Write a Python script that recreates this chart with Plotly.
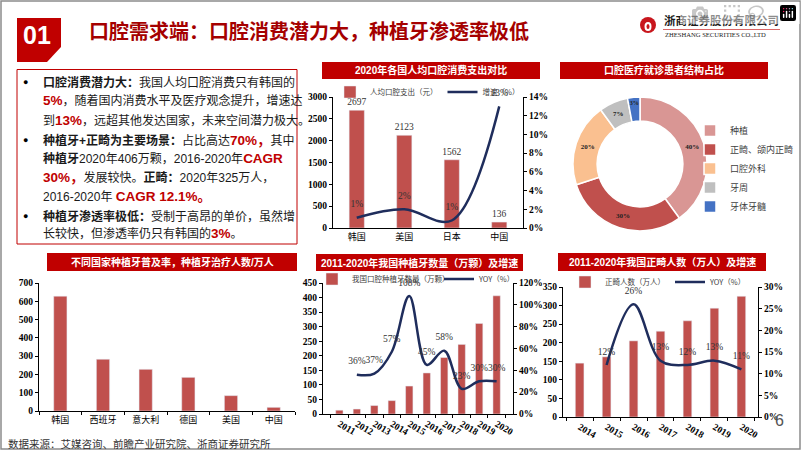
import plotly.graph_objects as go

W, H = 802, 451


def px(x):
    return x / W


def py(y):
    return 1 - y / H


# ---------------- DATA ----------------
c1_countries = ["韩国", "美国", "日本", "中国"]
c1_spend = [2697, 2123, 1562, 136]
c1_growth = [1.1, 2.0, 0.8, 13.0]

pie_labels = ["种植", "正畸、颌内正畸", "口腔外科", "牙周", "牙体牙髓"]
pie_values = [40, 30, 20, 7, 3]

c3_countries = ["韩国", "西班牙", "意大利", "德国", "美国", "中国"]
c3_patients = [628, 283, 228, 184, 84, 20]

c4_years = ["2011", "2012", "2013", "2014", "2015", "2016", "2017", "2018", "2019", "2020"]
c4_implants = [13, 17, 29, 46, 96, 141, 194, 239, 311, 406]
c4_yoy = [None, 36, 37, 57, 108, 45, 58, 23, 30, 30]

c5_years = ["2014", "2015", "2016", "2017", "2018", "2019", "2020"]
c5_ortho = [145, 162, 205, 231, 259, 293, 325]
c5_yoy = [None, 12, 26, 13, 12, 13, 11]

# ---------------- STYLE ----------------
RED = "#C00000"
BAR = "#C0504D"
LINE = "#1F2D5C"
SERIF = "Liberation Serif, Noto Sans CJK SC"
SANS = "Liberation Sans, Noto Sans CJK SC"
CJK = "Noto Sans CJK SC"
TF = dict(family=SERIF, size=9.5, color="black", weight="bold")
CATF = dict(family=CJK, size=9, color="black")
LBL = dict(family=SERIF, size=9.5, color="#333333")
HIDDEN_MARK = dict(size=11, color="rgba(0,0,0,0)")

fig = go.Figure()

# ---- Chart 1: per-capita oral spending ----
fig.add_trace(go.Bar(
    x=c1_countries, y=c1_spend, name="人均口腔支出（元）", marker_color=BAR, width=0.32,
    text=c1_spend, textposition="outside", textfont=LBL, cliponaxis=False, constraintext="none",
    xaxis="x", yaxis="y", legend="legend"))
fig.add_trace(go.Scatter(
    x=c1_countries, y=c1_growth, name="增速（%）", mode="lines+markers+text",
    line=dict(color=LINE, width=2.5, shape="spline", smoothing=1.0), marker=HIDDEN_MARK,
    text=[f"{round(v)}%" for v in c1_growth], textposition="top center", textfont=LBL,
    cliponaxis=False, xaxis="x", yaxis="y2", legend="legend"))

# ---- Donut ----
fig.add_trace(go.Pie(
    labels=pie_labels, values=pie_values, hole=0.64, sort=False, direction="clockwise",
    rotation=0,
    marker=dict(colors=["#D99694", "#C0504D", "#FAC090", "#BFBFBF", "#4472C4"],
                line=dict(color="white", width=1.5)),
    texttemplate="%{value}%", textposition="inside", insidetextorientation="horizontal",
    textfont=dict(family=SERIF, size=7, color="#222222", weight="bold"),
    domain=dict(x=[px(573), px(707)], y=[py(231), py(97)]),
    legend="legend2"))

# ---- Chart 3: implant patients by country ----
fig.add_trace(go.Bar(
    x=c3_countries, y=c3_patients, marker_color=BAR, width=0.31, showlegend=False,
    xaxis="x2", yaxis="y3"))

# ---- Chart 4: implants in China ----
fig.add_trace(go.Bar(
    x=c4_years, y=c4_implants, name="我国口腔种植牙数量（万颗）", marker_color=BAR, width=0.42,
    xaxis="x3", yaxis="y4", legend="legend3"))
fig.add_trace(go.Scatter(
    x=c4_years, y=c4_yoy, name="YOY（%）", mode="lines+markers+text",
    line=dict(color=LINE, width=2.5, shape="spline", smoothing=1.0), marker=HIDDEN_MARK,
    text=["" if v is None else f"{v}%" for v in c4_yoy], textposition="top center",
    textfont=LBL, cliponaxis=False, xaxis="x3", yaxis="y5", legend="legend3"))

# ---- Chart 5: orthodontic patients ----
fig.add_trace(go.Bar(
    x=c5_years, y=c5_ortho, name="正畸人数（万人）", marker_color=BAR, width=0.32,
    xaxis="x4", yaxis="y6", legend="legend4"))
fig.add_trace(go.Scatter(
    x=c5_years, y=c5_yoy, name="YOY（%）", mode="lines+markers+text",
    line=dict(color=LINE, width=2.5, shape="spline", smoothing=1.0), marker=HIDDEN_MARK,
    text=["" if v is None else f"{v}%" for v in c5_yoy], textposition="top center",
    textfont=LBL, cliponaxis=False, xaxis="x4", yaxis="y7", legend="legend4"))


def xax(x0, x1, anchor, ticks=True):
    return dict(domain=[px(x0), px(x1)], anchor=anchor, type="category", showline=True,
                linecolor="black", linewidth=1, showgrid=False, zeroline=False,
                ticks="outside" if ticks else "", ticklen=3, tickcolor="black",
                tickson="boundaries", tickfont=CATF, fixedrange=True, automargin=False)


def yax(y_bottom, y_top, anchor, rng, dtick, suffix="", overlaying=None):
    d = dict(anchor=anchor, range=rng, dtick=dtick, showline=True, linecolor="black",
             linewidth=1, showgrid=False, zeroline=False, ticks="outside", ticklen=3,
             tickcolor="black", tickfont=TF, ticksuffix=suffix, fixedrange=True, automargin=False)
    if overlaying:
        d.update(overlaying=overlaying, side="right")
    else:
        d.update(domain=[py(y_bottom), py(y_top)])
    return d


x4f = dict(CATF)
x4f.update(family=SERIF, size=9.5, weight="bold")

layout_axes = dict(
    xaxis=xax(333, 523, "y", ticks=False),
    yaxis=yax(228, 97, "x", [0, 3000], 500),
    yaxis2=yax(228, 97, "x", [0, 14], 2, "%", overlaying="y"),
    xaxis2=xax(39, 295, "y3"),
    yaxis3=yax(411, 283, "x2", [0, 700], 100),
    xaxis3=xax(323, 513, "y4"),
    yaxis4=yax(414, 283, "x3", [0, 450], 50),
    yaxis5=yax(414, 283, "x3", [0, 120], 20, "%", overlaying="y4"),
    xaxis4=xax(563, 758, "y6"),
    yaxis6=yax(417, 287, "x4", [0, 350], 50),
    yaxis7=yax(417, 287, "x4", [0, 30], 5, "%", overlaying="y6"),
)
layout_axes["xaxis3"]["tickfont"] = x4f
layout_axes["xaxis4"]["tickfont"] = x4f

LEGF = dict(family=CJK, size=7.5, color="#404040")


def hleg(x, y, ew=None):
    d = dict(orientation="h", x=px(x), y=py(y), xanchor="left", yanchor="middle",
             font=LEGF, bgcolor="rgba(0,0,0,0)", itemwidth=30, traceorder="normal")
    if ew:
        d.update(entrywidth=ew, entrywidthmode="pixels")
    return d


shapes = []
annotations = []


def ann(x, y, text, font, xanchor="center", yanchor="middle"):
    annotations.append(dict(x=px(x), y=py(y), xref="paper", yref="paper", text=text, showarrow=False,
                            xanchor=xanchor, yanchor=yanchor, font=font))


# slide frame
shapes.append(dict(type="rect", xref="paper", yref="paper", x0=px(1), x1=px(800), y0=py(449), y1=py(1),
                   line=dict(color="#8C8C8C", width=1.5), fillcolor="rgba(0,0,0,0)", layer="below"))

# "01" badge
pts = [(17, 18), (61, 18), (61, 47), (47, 62), (17, 62)]
path = "M " + " L ".join(f"{px(a):.5f},{py(b):.5f}" for a, b in pts) + " Z"
shapes.append(dict(type="path", xref="paper", yref="paper", path=path, fillcolor=RED, line=dict(width=0)))
ann(37, 35, "<b>01</b>", dict(family="Liberation Sans", size=25, color="white"))
# header title
ann(87, 31, "<b>口腔需求端：口腔消费潜力大，种植牙渗透率极低</b>",
    dict(family=CJK, size=20, color="#A50000"), xanchor="left")
# logo
shapes.append(dict(type="circle", xref="paper", yref="paper", x0=px(640), x1=px(656), y0=py(33), y1=py(17),
                   fillcolor="#C8161D", line=dict(width=0)))
shapes.append(dict(type="circle", xref="paper", yref="paper", x0=px(644.5), x1=px(651.5), y0=py(31), y1=py(22),
                   fillcolor="white", line=dict(width=0)))
shapes.append(dict(type="circle", xref="paper", yref="paper", x0=px(646.5), x1=px(649.5), y0=py(29), y1=py(24),
                   fillcolor="#C8161D", line=dict(width=0)))
ann(662, 20, "<b>浙商证券股份有限公司</b>", dict(family=CJK, size=11.5, color="#1A1A1A"), xanchor="left")
shapes.append(dict(type="line", xref="paper", yref="paper", x0=px(663), x1=px(780), y0=py(29.5), y1=py(29.5),
                   line=dict(color="#D04040", width=0.8)))
ann(663, 34, "ZHESHANG SECURITIES CO.,LTD", dict(family="Liberation Serif", size=6.6, color="#1A1A1A"),
    xanchor="left")

# text box
shapes.append(dict(type="rect", xref="paper", yref="paper", x0=px(17), x1=px(297), y0=py(244), y1=py(69.5),
                   line=dict(color=RED, width=1), fillcolor="white", layer="below"))


def red(s):
    return f"<span style='color:{RED};font-size:13.5px'><b>{s}</b></span>"


text_lines = [
    (True, "<b>口腔消费潜力大：</b>我国人均口腔消费只有韩国的"),
    (False, red("5%") + "，随着国内消费水平及医疗观念提升，增速达"),
    (False, "到" + red("13%") + "，远超其他发达国家，未来空间潜力极大。"),
    (True, "<b>种植牙+正畸为主要场景：</b>占比高达" + red("70%，") + "其中"),
    (False, "<b>种植牙</b>2020年406万颗，2016-2020年" + red("CAGR")),
    (False, red("30%，") + "发展较快。<b>正畸：</b>2020年325万人，"),
    (False, "2016-2020年 " + red("CAGR 12.1%。")),
    (True, "<b>种植牙渗透率极低：</b>受制于高昂的单价，虽然增"),
    (False, "长较快，但渗透率仍只有韩国的" + red("3%") + "。"),
]
line_y = [82, 101, 120, 140, 158, 177, 197, 216, 234]
for (bullet, txt), yy in zip(text_lines, line_y):
    if bullet:
        ann(25, yy, "●", dict(family=SANS, size=9, color="black"))
    ann(41, yy, txt, dict(family=SANS, size=12, color="#1A1A1A"), xanchor="left")

# chart title bars
title_bars = [
    (322, 540, 62, 79, "2020年各国人均口腔消费支出对比"),
    (560, 768, 62, 79, "口腔医疗就诊患者结构占比"),
    (47, 297, 253, 271, "不同国家种植牙普及率，种植牙治疗人数/万人"),
    (316, 523, 254, 271, "2011-2020年我国种植牙数量（万颗）及增速"),
    (558, 766, 253, 271, "2011-2020年我国正畸人数（万人）及增速"),
]
for x0, x1, y0, y1, t in title_bars:
    shapes.append(dict(type="rect", xref="paper", yref="paper", x0=px(x0), x1=px(x1), y0=py(y1), y1=py(y0),
                       fillcolor=RED, line=dict(width=0), layer="below"))
    ann((x0 + x1) / 2, (y0 + y1) / 2, f"<b>{t}</b>", dict(family=SANS, size=10, color="white"))

# source + page number
ann(6, 443, "数据来源：艾媒咨询、前瞻产业研究院、浙商证券研究所",
    dict(family=CJK, size=10.5, color="#333333"), xanchor="left")
ann(779, 420, "6", dict(family="Liberation Sans", size=16, color="#555555"))

fig.update_layout(
    width=W, height=H, margin=dict(l=0, r=0, t=0, b=0, autoexpand=False),
    paper_bgcolor="white", plot_bgcolor="rgba(0,0,0,0)",
    barmode="overlay", bargap=0.6,
    shapes=shapes, annotations=annotations,
    legend=hleg(330, 92),
    legend2=dict(orientation="v", x=px(690), y=py(116), xanchor="left", yanchor="top",
                 font=dict(family=CJK, size=9, color="#404040"), bgcolor="rgba(0,0,0,0)",
                 traceorder="normal"),
    legend3=hleg(312, 279, 82),
    legend4=hleg(565, 282),
    **layout_axes,
)

fig.write_html(
    "out.html",
    post_script="document.body.style.margin='0';document.body.style.padding='0';"
                "document.body.style.overflow='hidden';",
)
